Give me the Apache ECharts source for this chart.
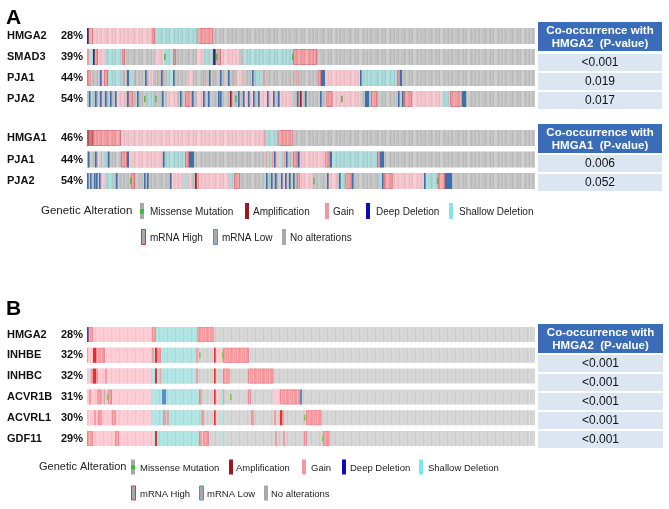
<!DOCTYPE html>
<html><head><meta charset="utf-8">
<script src="https://cdn.jsdelivr.net/npm/echarts@6/dist/echarts.min.js"></script>
<style>html,body{margin:0;padding:0;background:#fff}#c{width:669px;height:509px}</style>
</head><body><div id="c"></div>
<script>
// ---------- DATA ----------
// sample-ordered track positions run 0 .. TRACK_LEN
const TRACK_LEN = 448;

const genesA1 = ['HMGA2', 'SMAD3', 'PJA1', 'PJA2'];
const pctA1 = ['28%', '39%', '44%', '54%'];
const pvalA1 = ['<0.001', '0.019', '0.017'];

const genesA2 = ['HMGA1', 'PJA1', 'PJA2'];
const pctA2 = ['46%', '44%', '54%'];
const pvalA2 = ['0.006', '0.052'];

const genesB = ['HMGA2', 'INHBE', 'INHBC', 'ACVR1B', 'ACVRL1', 'GDF11'];
const pctB = ['28%', '32%', '32%', '31%', '30%', '29%'];
const pvalB = ['<0.001', '<0.001', '<0.001', '<0.001', '<0.001'];

// segments: [start, end, alteration]
const A1_HMGA2 = [[0,1,'deep'],[1,6,'high'],[6,65,'gain'],[65,68,'high'],[68,110,'shal'],[110,126,'high']];
const A1_SMAD3 = [[0,2,'high'],[2,6,'shal'],[6,7,'deep'],[7,11,'high'],[11,18,'gain'],[18,35,'shal'],[35,38,'high'],[68,77,'gain'],[77,86,'shal'],[77,78,'mis'],[86,89,'high'],[110,116,'gain'],[116,125,'shal'],[126,127,'amp'],[127,128,'deep'],[129,130,'mis'],[130,134,'high'],[134,152,'gain'],[156,205,'shal'],[205,206,'mis'],[206,230,'high']];
const A1_PJA1 = [[0,4,'high'],[13,14,'low'],[15,17,'gain'],[17,21,'high'],[21,35,'shal'],[36,37,'high'],[40,42,'low'],[44,47,'shal'],[48,49,'high'],[58,59,'low'],[62,66,'gain'],[70,71,'high'],[74,75,'low'],[76,77,'high'],[80,86,'shal'],[86,87,'low'],[100,106,'gain'],[116,117,'high'],[122,123,'low'],[126,127,'high'],[133,134,'low'],[136,137,'high'],[141,142,'low'],[146,147,'high'],[150,156,'gain'],[165,166,'low'],[169,176,'shal'],[176,178,'high'],[206,207,'high'],[211,212,'high'],[231,234,'high'],[234,238,'low'],[238,273,'gain'],[273,274,'low'],[275,310,'shal'],[310,313,'high'],[313,315,'low']];
const A1_PJA2 = [[2,6,'shal'],[2,3,'low'],[8,9,'low'],[13,14,'low'],[18,19,'low'],[23,24,'low'],[28,29,'low'],[30,38,'gain'],[40,41,'low'],[41,46,'high'],[50,51,'low'],[57,58,'mis'],[60,66,'shal'],[68,69,'mis'],[75,76,'low'],[80,90,'gain'],[93,94,'low'],[98,105,'high'],[105,106,'low'],[110,116,'gain'],[116,117,'low'],[121,122,'low'],[131,132,'low'],[133,134,'low'],[143,144,'amp'],[148,149,'mis'],[151,152,'low'],[156,166,'gain'],[156,157,'low'],[161,162,'low'],[166,167,'low'],[171,172,'low'],[173,186,'gain'],[180,181,'low'],[186,187,'low'],[191,192,'low'],[193,205,'gain'],[210,211,'low'],[212,213,'high'],[213,214,'amp'],[218,219,'low'],[233,234,'low'],[239,246,'high'],[246,273,'gain'],[254,255,'mis'],[278,282,'low'],[284,290,'high'],[311,312,'low'],[315,316,'low'],[317,325,'high'],[325,355,'gain'],[355,363,'shal'],[363,375,'high'],[375,379,'low']];

const A2_HMGA1 = [[0,6,'ampblk'],[6,34,'high'],[34,177,'gain'],[177,178,'high'],[179,190,'shal'],[191,206,'high']];
const A2_PJA1 = [[0,1,'high'],[1,2,'low'],[8,9,'low'],[11,14,'gain'],[15,18,'shal'],[20,21,'high'],[21,22,'low'],[34,40,'high'],[40,42,'low'],[42,75,'gain'],[76,77,'low'],[79,98,'shal'],[98,102,'high'],[102,107,'low'],[179,180,'high'],[180,183,'shal'],[185,186,'high'],[187,188,'low'],[190,192,'gain'],[192,197,'shal'],[197,198,'high'],[199,200,'low'],[206,211,'high'],[211,212,'low'],[212,238,'gain'],[238,243,'high'],[243,245,'low'],[245,290,'shal'],[290,293,'high'],[293,297,'low']];
const A2_PJA2 = [[0,1,'low'],[3,4,'low'],[7,8,'low'],[9,10,'low'],[12,13,'low'],[13,18,'gain'],[18,26,'shal'],[29,30,'low'],[43,44,'mis'],[44,48,'high'],[57,58,'low'],[60,61,'low'],[83,84,'low'],[84,96,'gain'],[96,100,'shal'],[100,104,'gain'],[108,109,'amp'],[109,112,'high'],[112,142,'gain'],[142,147,'shal'],[147,153,'high'],[179,180,'low'],[180,182,'shal'],[184,185,'low'],[188,189,'low'],[194,195,'low'],[195,198,'gain'],[198,199,'low'],[202,203,'low'],[206,207,'low'],[210,213,'high'],[213,226,'gain'],[226,227,'mis'],[240,241,'low'],[241,250,'gain'],[252,253,'low'],[253,258,'shal'],[258,265,'high'],[265,266,'low'],[293,295,'shal'],[295,296,'low'],[297,306,'high'],[306,337,'gain'],[337,338,'low'],[338,350,'shal'],[350,351,'mis'],[351,358,'high'],[358,365,'low']];

const B_HMGA2 = [[0,1,'deep'],[1,6,'high'],[6,65,'gain'],[65,69,'high'],[69,110,'shal'],[110,127,'high']];
const B_INHBE = [[0,1,'high'],[1,6,'gain'],[6,9,'red'],[9,18,'high'],[18,65,'gain'],[65,67,'high'],[67,68,'shal'],[68,70,'red'],[70,74,'high'],[74,109,'shal'],[109,111,'high'],[112,113,'mis'],[127,128,'red'],[129,134,'gain'],[135,136,'mis'],[136,162,'high']];
const B_INHBC = [[0,2,'gain'],[4,6,'high'],[6,9,'red'],[9,11,'high'],[11,18,'gain'],[18,20,'high'],[20,65,'gain'],[65,68,'shal'],[68,70,'red'],[70,73,'shal'],[73,74,'high'],[75,109,'shal'],[109,111,'high'],[127,128,'red'],[136,143,'high'],[161,187,'high']];
const B_ACVR1B = [[0,2,'gain'],[2,4,'high'],[4,10,'gain'],[10,15,'high'],[17,18,'high'],[20,21,'mis'],[21,25,'high'],[25,65,'gain'],[65,75,'shal'],[75,79,'low'],[79,112,'shal'],[112,115,'high'],[127,128,'red'],[129,132,'gain'],[134,136,'shal'],[136,137,'high'],[143,144,'mis'],[161,164,'high'],[187,193,'gain'],[193,213,'high'],[213,215,'low']];
const B_ACVRL1 = [[0,7,'gain'],[7,9,'high'],[9,11,'gain'],[11,15,'high'],[15,25,'gain'],[25,29,'high'],[29,65,'gain'],[65,76,'shal'],[76,79,'high'],[79,80,'shal'],[80,82,'high'],[82,114,'shal'],[114,117,'high'],[127,128,'red'],[135,136,'shal'],[164,167,'high'],[187,189,'high'],[193,195,'red'],[195,197,'high'],[217,218,'mis'],[219,235,'high']];
const B_GDF11 = [[0,6,'high'],[6,28,'gain'],[28,32,'high'],[32,67,'gain'],[67,68,'shal'],[68,70,'red'],[70,112,'shal'],[112,115,'high'],[115,116,'gain'],[116,122,'high'],[135,136,'shal'],[188,190,'high'],[196,198,'high'],[217,220,'high'],[235,236,'mis'],[236,243,'high']];

const tracksA1 = [A1_HMGA2, A1_SMAD3, A1_PJA1, A1_PJA2];
const tracksA2 = [A2_HMGA1, A2_PJA1, A2_PJA2];
const tracksB = [B_HMGA2, B_INHBE, B_INHBC, B_ACVR1B, B_ACVRL1, B_GDF11];

const legendRow1 = ['Missense Mutation', 'Amplification', 'Gain', 'Deep Deletion', 'Shallow Deletion'];
const legendRow2 = ['mRNA High', 'mRNA Low', 'No alterations'];

// ---------- RENDER ----------
const TYPES = ['none','gain','shal','high','ampblk','low','amp','deep','red','mis'];
const PRIO = {none:0,gain:1,shal:1,high:1,ampblk:1,low:2,amp:2,deep:2,red:2,mis:3};

function buildData(tracks) {
  const out = [];
  tracks.forEach((segs, r) => {
    out.push([r, 0, TRACK_LEN, 0]);
    const s = segs.map((d, k) => ({d, k})).sort((a, b) => (PRIO[a.d[2]] - PRIO[b.d[2]]) || (a.k - b.k));
    s.forEach(o => out.push([r, o.d[0], o.d[1], TYPES.indexOf(o.d[2])]));
  });
  return out;
}

// subtle vertical sample-column texture (purely decorative)
function stripeCanvas(alphas) {
  const c = document.createElement('canvas');
  c.width = alphas.length; c.height = 4;
  const g = c.getContext('2d');
  alphas.forEach((a, i) => {
    g.fillStyle = a >= 0 ? 'rgba(255,255,255,' + a + ')' : 'rgba(0,0,0,' + (-a) + ')';
    g.fillRect(i, 0, 1, 4);
  });
  return c;
}
const texA = stripeCanvas([0, .16, .16, 0, -.04, .08, 0, -.05, .2, .2, .2, 0, -.04, 0, .12, 0, -.05, .18, 0, 0, -.04, .14, .14, 0, .06, 0, -.05]);
const texB = stripeCanvas([0, .22, 0, .08, 0, .2, 0, -.03]);

const palA = {none:'#c2c2c2', gain:'#f3c3cb', shal:'#a8d8d8', high:'#f09a9d', highS:'#de7c82', ampblk:'#c2585b',
  low:'#3e70ad', amp:'#a01e2c', deep:'#28307e', red:'#e83a3a', mis:'#5cb848', tex:texA};
const palB = {none:'#d3d3d3', gain:'#fcc9d1', shal:'#ade2e2', high:'#f79b9f', highS:'#ef8a90', ampblk:'#c2585b',
  low:'#5a8cc8', amp:'#a01e2c', deep:'#3a3acc', red:'#f02a2a', mis:'#7ccc48', tex:texB};

function makeRender(pal, ratio) {
  return function (params, api) {
    const row = api.value(0), s = api.value(1), e = api.value(2), t = TYPES[api.value(3)];
    const p0 = api.coord([s, row]), p1 = api.coord([e, row]);
    const band = api.size([0, 1])[1];
    const h = band * ratio;
    const x = p0[0];
    let w = p1[0] - p0[0];
    const y = p0[1] - h / 2;
    if (t === 'mis') {
      return {type:'rect', shape:{x:x, y:p0[1] - h/5, width:Math.max(w,1.6), height:h*0.4}, style:{fill:pal.mis}};
    }
    if (t === 'low' || t === 'amp' || t === 'deep' || t === 'red') {
      w = Math.max(w, 1.6);
      return {type:'rect', shape:{x:x, y:y, width:w, height:h}, style:{fill:pal[t]}};
    }
    w = Math.max(w, 1.2);
    const tex = {type:'rect', shape:{x:x, y:y, width:w, height:h}, style:{fill:{image:pal.tex, repeat:'repeat'}}};
    let base;
    if (t === 'high' && w >= 3) {
      base = {type:'rect', shape:{x:x + 0.5, y:y + 0.5, width:w - 1, height:h - 1},
        style:{fill:pal.high, stroke:pal.highS, lineWidth:1}};
    } else {
      base = {type:'rect', shape:{x:x, y:y, width:w, height:h}, style:{fill:pal[t]}};
    }
    if (w < 3) return base;
    return {type:'group', children:[base, tex]};
  };
}

const FONT = 'Liberation Sans, Arial, sans-serif';

function yAxisFor(idx, genes, pcts) {
  return {
    type:'category', gridIndex:idx, data:genes, inverse:true,
    axisLine:{show:false}, axisTick:{show:false}, splitLine:{show:false},
    axisLabel:{
      margin:4,
      formatter:(v, i) => '{g|' + v + '}{p|' + pcts[i] + '}',
      rich:{
        g:{width:52, align:'left', fontWeight:'bold', fontSize:11, fontFamily:FONT, color:'#111'},
        p:{width:24, align:'right', fontWeight:'bold', fontSize:11, fontFamily:FONT, color:'#111'}
      }
    }
  };
}
function xAxisFor(idx) {
  return {type:'value', gridIndex:idx, min:0, max:TRACK_LEN, show:false};
}

// table graphic
function table(x, w, hy, hh, gene, rowYs, rowH, pvals) {
  const els = [];
  els.push({type:'rect', shape:{x:x, y:hy, width:w, height:hh}, style:{fill:'#3b6cb7'}});
  els.push({type:'text', x:x + w/2, y:hy + hh/2 + 0.5, style:{text:'Co-occurrence with\n' + gene + '  (P-value)',
    fill:'#fff', font:'bold 11.5px ' + FONT, align:'center', verticalAlign:'middle', lineHeight:13}});
  pvals.forEach((p, i) => {
    els.push({type:'rect', shape:{x:x, y:rowYs[i], width:w, height:rowH}, style:{fill:'#dce6f3'}});
    els.push({type:'text', x:x + w/2, y:rowYs[i] + rowH/2 + 0.5, style:{text:p, fill:'#111',
      font:'12px ' + FONT, align:'center', verticalAlign:'middle'}});
  });
  return els;
}

function marker(kind, x, cy, h) {
  const y = cy - h/2, w = 4;
  const els = [];
  const gray = '#a9a9a9';
  if (kind === 'Missense Mutation') {
    els.push({type:'rect', shape:{x, y, width:w, height:h}, style:{fill:gray}});
    els.push({type:'rect', shape:{x, y:y + h*0.38, width:w, height:h*0.28}, style:{fill:'#3cb83c'}});
  } else if (kind === 'Amplification') {
    els.push({type:'rect', shape:{x, y, width:w, height:h}, style:{fill:'#9a1a24'}});
  } else if (kind === 'Gain') {
    els.push({type:'rect', shape:{x, y, width:w, height:h}, style:{fill:'#f5959d'}});
  } else if (kind === 'Deep Deletion') {
    els.push({type:'rect', shape:{x, y, width:w, height:h}, style:{fill:'#0a0ab8'}});
  } else if (kind === 'Shallow Deletion') {
    els.push({type:'rect', shape:{x, y, width:w, height:h}, style:{fill:'#7fe7e7'}});
  } else if (kind === 'mRNA High') {
    els.push({type:'rect', shape:{x:x + 0.5, y:y + 0.5, width:w, height:h - 1}, style:{fill:gray, stroke:'#e83030', lineWidth:1}});
  } else if (kind === 'mRNA Low') {
    els.push({type:'rect', shape:{x:x + 0.5, y:y + 0.5, width:w, height:h - 1}, style:{fill:gray, stroke:'#4a90e0', lineWidth:1}});
  } else {
    els.push({type:'rect', shape:{x, y, width:w, height:h}, style:{fill:gray}});
  }
  return els;
}

function legend(titleX, cy1, cy2, mx1, tx1, mx2, tx2, h, fs, tfs) {
  const els = [];
  els.push({type:'text', x:titleX, y:cy1, style:{text:'Genetic Alteration', fill:'#222', font:tfs + 'px ' + FONT, verticalAlign:'middle'}});
  legendRow1.forEach((lab, i) => {
    marker(lab, mx1[i], cy1, h).forEach(e => els.push(e));
    els.push({type:'text', x:tx1[i], y:cy1 + 1, style:{text:lab, fill:'#222', font:fs + 'px ' + FONT, verticalAlign:'middle'}});
  });
  legendRow2.forEach((lab, i) => {
    marker(lab, mx2[i], cy2, h).forEach(e => els.push(e));
    els.push({type:'text', x:tx2[i], y:cy2 + 1, style:{text:lab, fill:'#222', font:fs + 'px ' + FONT, verticalAlign:'middle'}});
  });
  return els;
}

const graphics = [].concat(
  [{type:'text', x:6, y:8, style:{text:'A', fill:'#000', font:'bold 21px ' + FONT}},
   {type:'text', x:6, y:299, style:{text:'B', fill:'#000', font:'bold 21px ' + FONT}}],
  table(538, 124, 22, 29, 'HMGA2', [54, 73, 92], 17, pvalA1),
  table(538, 124, 124, 29, 'HMGA1', [155, 174], 17, pvalA2),
  table(538, 125, 324, 29, 'HMGA2', [355, 374, 393, 412, 431], 17, pvalB),
  legend(41, 211, 237, [140, 245, 325, 366, 449], [150, 253, 333, 376, 459], [141, 213, 282], [150, 222, 290], 16, 10, 11.5),
  legend(39, 467, 493, [131, 229, 302, 342, 419], [140, 236, 311, 350, 428], [131, 199, 264], [140, 207, 271], 15, 9.5, 11)
);

const chart = echarts.init(document.getElementById('c'), null, {renderer:'canvas'});
chart.setOption({
  animation:false,
  backgroundColor:'#fff',
  grid:[
    {left:87, top:25.5, width:448, height:84},
    {left:87, top:127.25, width:448, height:64.5},
    {left:87, top:324.1, width:448, height:124.8}
  ],
  xAxis:[xAxisFor(0), xAxisFor(1), xAxisFor(2)],
  yAxis:[yAxisFor(0, genesA1, pctA1), yAxisFor(1, genesA2, pctA2), yAxisFor(2, genesB, pctB)],
  series:[
    {type:'custom', xAxisIndex:0, yAxisIndex:0, renderItem:makeRender(palA, 16/21), data:buildData(tracksA1), encode:{x:[1,2], y:0}, silent:true},
    {type:'custom', xAxisIndex:1, yAxisIndex:1, renderItem:makeRender(palA, 16/21.5), data:buildData(tracksA2), encode:{x:[1,2], y:0}, silent:true},
    {type:'custom', xAxisIndex:2, yAxisIndex:2, renderItem:makeRender(palB, 15/20.8), data:buildData(tracksB), encode:{x:[1,2], y:0}, silent:true}
  ],
  graphic:graphics
});
</script>
</body></html>
